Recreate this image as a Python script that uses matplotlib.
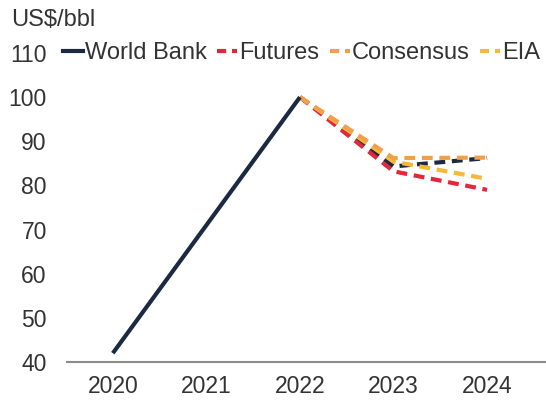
import matplotlib.pyplot as plt
from matplotlib.lines import Line2D

plt.rcParams['font.family'] = ['Liberation Sans', 'DejaVu Sans']

# Data
years = [2020, 2021, 2022, 2023, 2024]
wb_hist_years = [2020, 2022]
wb_hist = [42, 100]
fc_years = [2022, 2023, 2024]
wb_fc = [100, 84.3, 86.2]
futures = [100, 83.2, 79.0]
consensus = [100, 86.2, 86.3]
eia = [100, 85.4, 81.5]
labels = ['World Bank', 'Futures', 'Consensus', 'EIA']

navy = '#1b2a41'
red = '#e2263d'
orange = '#f0a04a'
yellow = '#f6b838'

fig = plt.figure(figsize=(5.46, 4.03), dpi=100)
ax = fig.add_axes([0.1227, 0.1017, 0.8773, 0.7668])

# Forecast lines (dashed), then history on top
dash = (2.6, 1.6)
ax.plot(fc_years, wb_fc, color=navy, lw=3, linestyle=(0, dash))
ax.plot(fc_years, futures, color=red, lw=3, linestyle=(0, dash))
ax.plot(fc_years, eia, color=yellow, lw=3, linestyle=(0, dash))
ax.plot(fc_years, consensus, color=orange, lw=3, linestyle=(0, dash))
ax.plot(wb_hist_years, wb_hist, color=navy, lw=3, solid_capstyle='butt')

ax.set_ylim(40, 110)
ax.set_xlim(2019.51, 2024.63)
ax.set_yticks(range(40, 111, 10))
ax.set_xticks(years)
ax.set_xticklabels([str(y) for y in years])
ax.tick_params(axis='both', length=0, labelsize=16.5, colors='#333333')
ax.tick_params(axis='y', pad=14.5)
ax.tick_params(axis='x', pad=9.5)

for side in ['left', 'right', 'top']:
    ax.spines[side].set_visible(False)
ax.spines['bottom'].set_color('#8c8c8c')
ax.spines['bottom'].set_linewidth(1.5)

fig.text(0.02, 0.95, 'US$/bbl', fontsize=17, color='#333333', va='center', ha='left')

handles = [
    Line2D([], [], color=navy, lw=3),
    Line2D([], [], color=red, lw=3, linestyle=(0, (2.2, 1.4))),
    Line2D([], [], color=orange, lw=3, linestyle=(0, (2.2, 1.4))),
    Line2D([], [], color=yellow, lw=3, linestyle=(0, (2.2, 1.4))),
]
fig.legend(handles, labels, ncol=4, frameon=False, loc='center left',
           bbox_to_anchor=(0.115, 0.868), fontsize=17, handlelength=0.85,
           handletextpad=0.08, columnspacing=0.45, borderpad=0, borderaxespad=0,
           labelcolor='#333333')

fig.savefig('out.png', dpi=100)
